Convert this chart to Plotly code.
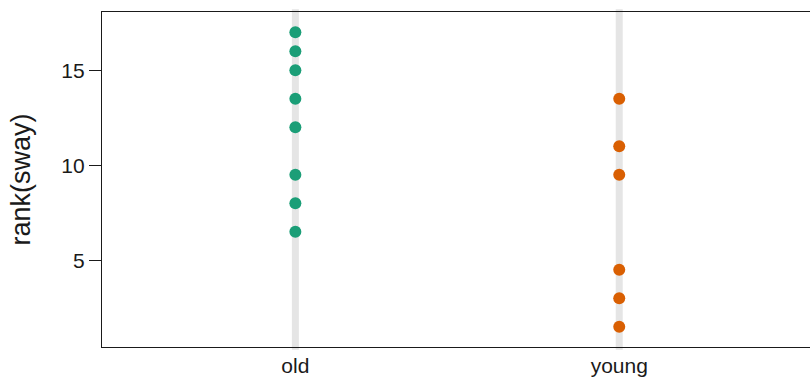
import plotly.graph_objects as go

categories = ["old", "young"]
old_ranks = [17, 16, 15, 13.5, 12, 9.5, 8, 6.5]
young_ranks = [13.5, 11, 9.5, 4.5, 3, 1.5]
colors = ["#1b9e77", "#d95f02"]
y_ticks = [5, 10, 15]

series = [old_ranks, young_ranks]
positions = [1, 2]

fig = go.Figure()
shapes = []
for pos in positions:
    shapes.append(dict(type="line", xref="x", yref="paper", x0=pos, x1=pos,
                       y0=-0.008, y1=1.008, line=dict(color="#e5e5e5", width=7),
                       layer="below"))

for pos, vals, col in zip(positions, series, colors):
    fig.add_trace(go.Scatter(x=[pos] * len(vals), y=vals, mode="markers",
                             marker=dict(color=col, size=12, line=dict(width=0)),
                             showlegend=False, cliponaxis=False))

font = "Liberation Sans, Arial, Helvetica, sans-serif"
fig.update_layout(
    width=810, height=381,
    margin=dict(l=102, r=0, t=12, b=34),
    plot_bgcolor="white", paper_bgcolor="white",
    shapes=shapes,
    font=dict(family=font, color="#1a1a1a"),
    xaxis=dict(range=[0.403, 2.589], tickvals=positions, ticktext=categories,
               showgrid=False, zeroline=False, showline=True, mirror=True,
               linecolor="#1a1a1a", linewidth=1.4, ticks="",
               tickfont=dict(size=21, family=font, color="#1a1a1a")),
    yaxis=dict(range=[0.44, 18.07], tickvals=y_ticks, showgrid=False, zeroline=False,
               showline=True, linecolor="#1a1a1a", linewidth=1.4,
               ticks="outside", ticklen=12, tickwidth=1.4, tickcolor="#1a1a1a",
               tickfont=dict(size=21, family=font, color="#1a1a1a"),
               title=dict(text="rank(sway)", font=dict(size=27, family=font, color="#1a1a1a"),
                          standoff=22)),
)
fig.write_html("out.html", config={"displayModeBar": False},
               post_script="document.body.style.margin='0px';document.body.style.overflow='hidden';")
